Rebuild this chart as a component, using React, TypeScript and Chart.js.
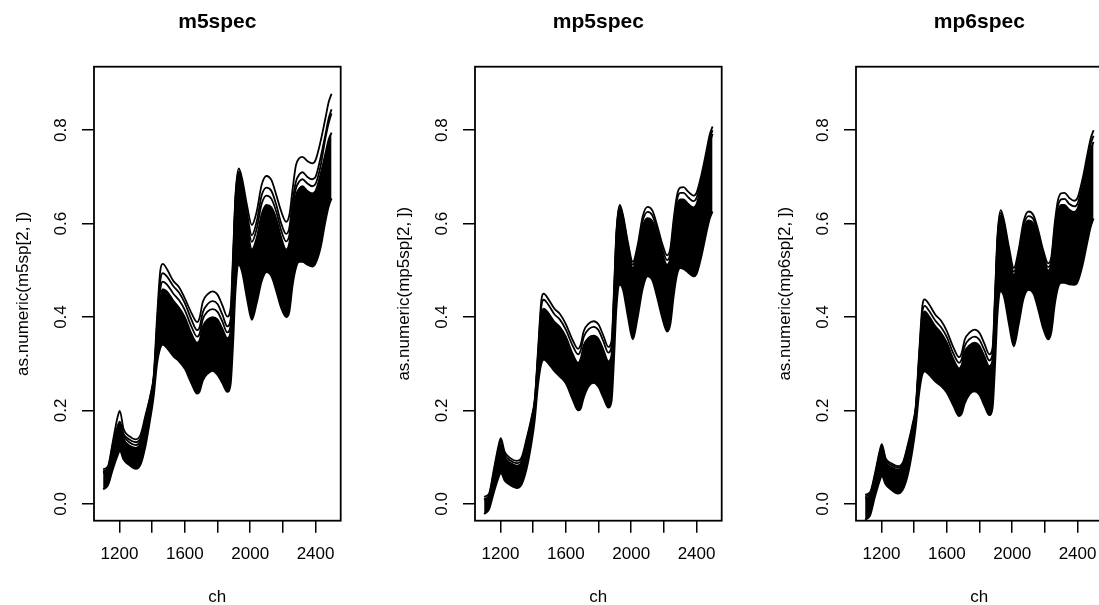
import React, { useEffect, useRef } from "react";
import { Chart, registerables } from "chart.js";

Chart.register(...registerables);

const FONT = "'Liberation Sans', Arial, Helvetica, sans-serif";

// wavelengths (channel) at which the curves were read
const WAVE = [
  1100, 1130, 1160, 1190, 1202, 1225, 1260,
  1300, 1330, 1360, 1390, 1410, 1430, 1450, 1465,
  1490, 1530, 1565, 1600, 1640, 1675, 1690,
  1710, 1740, 1770, 1800, 1830, 1860, 1880, 1895,
  1910, 1930, 1950, 1980, 2010, 2040, 2070,
  2100, 2130, 2160, 2190, 2220, 2240, 2260,
  2280, 2300, 2320, 2350, 2380, 2400, 2430, 2460, 2480, 2498,
];

// ---- m5spec ----
const M5_TOP = [
  0.074, 0.081, 0.135, 0.188, 0.199, 0.160, 0.145,
  0.138, 0.149, 0.191, 0.234, 0.277, 0.400, 0.500, 0.514,
  0.503, 0.477, 0.464, 0.440, 0.409, 0.389, 0.398,
  0.433, 0.449, 0.455, 0.448, 0.425, 0.401, 0.419, 0.533,
  0.661, 0.718, 0.697, 0.640, 0.597, 0.626, 0.683,
  0.702, 0.693, 0.661, 0.626, 0.604, 0.619, 0.675,
  0.725, 0.740, 0.743, 0.734, 0.729, 0.736, 0.775, 0.825, 0.860, 0.878,
];
const M5_SECOND = [
  0.070, 0.077, 0.128, 0.168, 0.176, 0.150, 0.138,
  0.132, 0.142, 0.185, 0.232, 0.272, 0.385, 0.478, 0.494,
  0.487, 0.466, 0.452, 0.430, 0.395, 0.372, 0.378,
  0.410, 0.428, 0.434, 0.428, 0.405, 0.380, 0.395, 0.520,
  0.655, 0.712, 0.690, 0.625, 0.575, 0.605, 0.660,
  0.677, 0.670, 0.640, 0.600, 0.578, 0.592, 0.650,
  0.690, 0.705, 0.710, 0.700, 0.695, 0.700, 0.740, 0.790, 0.825, 0.845,
];
const M5_THIRD = [
  0.068, 0.075, 0.122, 0.164, 0.172, 0.146, 0.132,
  0.126, 0.136, 0.180, 0.228, 0.268, 0.372, 0.460, 0.476,
  0.470, 0.450, 0.436, 0.415, 0.380, 0.358, 0.364,
  0.395, 0.412, 0.417, 0.411, 0.390, 0.367, 0.382, 0.510,
  0.648, 0.709, 0.684, 0.613, 0.561, 0.589, 0.642,
  0.660, 0.653, 0.625, 0.585, 0.562, 0.576, 0.635,
  0.675, 0.690, 0.695, 0.686, 0.680, 0.685, 0.722, 0.782, 0.815, 0.836,
];
const M5_BAND_HI = [
  0.066, 0.072, 0.115, 0.160, 0.170, 0.140, 0.125,
  0.120, 0.130, 0.175, 0.225, 0.265, 0.360, 0.440, 0.460,
  0.455, 0.435, 0.420, 0.400, 0.365, 0.345, 0.350,
  0.380, 0.395, 0.400, 0.395, 0.375, 0.355, 0.370, 0.500,
  0.640, 0.705, 0.675, 0.600, 0.545, 0.570, 0.620,
  0.640, 0.635, 0.610, 0.570, 0.545, 0.560, 0.620,
  0.660, 0.675, 0.680, 0.670, 0.665, 0.670, 0.705, 0.750, 0.780, 0.795,
];
const M5_BAND_LO = [
  0.031, 0.040, 0.075, 0.105, 0.114, 0.095, 0.083,
  0.075, 0.085, 0.125, 0.185, 0.232, 0.300, 0.334, 0.341,
  0.334, 0.316, 0.305, 0.289, 0.258, 0.236, 0.240,
  0.264, 0.279, 0.285, 0.276, 0.258, 0.240, 0.255, 0.340,
  0.455, 0.512, 0.497, 0.440, 0.394, 0.430, 0.476,
  0.496, 0.487, 0.455, 0.419, 0.400, 0.412, 0.469,
  0.505, 0.518, 0.518, 0.512, 0.508, 0.515, 0.547, 0.604, 0.636, 0.654,
];

// ---- mp5spec ----
const MP5_TOP = [
  0.015, 0.022, 0.075, 0.128, 0.141, 0.112, 0.098,
  0.092, 0.100, 0.140, 0.185, 0.225, 0.330, 0.435, 0.450,
  0.440, 0.418, 0.406, 0.385, 0.352, 0.332, 0.340,
  0.370, 0.386, 0.391, 0.384, 0.360, 0.336, 0.350, 0.460,
  0.585, 0.640, 0.618, 0.560, 0.518, 0.555, 0.615,
  0.636, 0.628, 0.595, 0.557, 0.532, 0.548, 0.610,
  0.660, 0.677, 0.678, 0.668, 0.660, 0.666, 0.705, 0.755, 0.790, 0.808,
];
const MP5_SECOND = [
  0.010, 0.018, 0.070, 0.122, 0.135, 0.106, 0.093,
  0.087, 0.095, 0.135, 0.181, 0.221, 0.322, 0.422, 0.437,
  0.428, 0.406, 0.394, 0.373, 0.340, 0.320, 0.328,
  0.358, 0.374, 0.379, 0.372, 0.348, 0.324, 0.338, 0.452,
  0.580, 0.637, 0.614, 0.555, 0.512, 0.548, 0.605,
  0.625, 0.617, 0.585, 0.547, 0.522, 0.538, 0.600,
  0.650, 0.666, 0.666, 0.656, 0.648, 0.655, 0.696, 0.747, 0.782, 0.800,
];
const MP5_BAND_HI = [
  0.008, 0.015, 0.065, 0.115, 0.128, 0.100, 0.088,
  0.082, 0.090, 0.130, 0.178, 0.218, 0.315, 0.405, 0.418,
  0.410, 0.390, 0.378, 0.358, 0.323, 0.302, 0.310,
  0.340, 0.356, 0.360, 0.353, 0.330, 0.305, 0.320, 0.440,
  0.575, 0.632, 0.608, 0.548, 0.505, 0.540, 0.595,
  0.612, 0.605, 0.575, 0.537, 0.512, 0.528, 0.590,
  0.638, 0.652, 0.652, 0.642, 0.635, 0.642, 0.685, 0.738, 0.772, 0.792,
];
const MP5_BAND_LO = [
  -0.022, -0.012, 0.025, 0.058, 0.067, 0.050, 0.040,
  0.034, 0.042, 0.075, 0.130, 0.180, 0.255, 0.300, 0.309,
  0.302, 0.284, 0.272, 0.258, 0.225, 0.200, 0.203,
  0.228, 0.252, 0.259, 0.250, 0.227, 0.206, 0.220, 0.310,
  0.420, 0.469, 0.458, 0.400, 0.352, 0.400, 0.460,
  0.487, 0.478, 0.440, 0.398, 0.369, 0.385, 0.445,
  0.490, 0.505, 0.503, 0.495, 0.487, 0.492, 0.530, 0.580, 0.610, 0.626,
];

// ---- mp6spec ----
const MP6_TOP = [
  0.020, 0.025, 0.065, 0.115, 0.128, 0.098, 0.087,
  0.081, 0.088, 0.125, 0.170, 0.210, 0.320, 0.423, 0.438,
  0.428, 0.405, 0.392, 0.370, 0.335, 0.314, 0.322,
  0.352, 0.367, 0.373, 0.366, 0.343, 0.320, 0.335, 0.450,
  0.575, 0.629, 0.607, 0.550, 0.505, 0.545, 0.605,
  0.626, 0.618, 0.585, 0.543, 0.515, 0.530, 0.600,
  0.650, 0.665, 0.666, 0.655, 0.649, 0.655, 0.695, 0.748, 0.782, 0.800,
];
const MP6_SECOND = [
  0.016, 0.021, 0.061, 0.110, 0.123, 0.094, 0.083,
  0.077, 0.084, 0.121, 0.166, 0.206, 0.312, 0.410, 0.424,
  0.414, 0.392, 0.378, 0.357, 0.322, 0.302, 0.309,
  0.338, 0.353, 0.358, 0.351, 0.329, 0.307, 0.322, 0.440,
  0.567, 0.623, 0.601, 0.542, 0.497, 0.536, 0.596,
  0.616, 0.609, 0.576, 0.535, 0.507, 0.522, 0.590,
  0.637, 0.652, 0.653, 0.642, 0.637, 0.643, 0.683, 0.737, 0.770, 0.788,
];
const MP6_BAND_HI = [
  0.012, 0.018, 0.058, 0.105, 0.118, 0.090, 0.079,
  0.073, 0.080, 0.117, 0.163, 0.203, 0.305, 0.400, 0.412,
  0.402, 0.380, 0.366, 0.345, 0.310, 0.290, 0.297,
  0.326, 0.340, 0.345, 0.338, 0.316, 0.295, 0.310, 0.430,
  0.560, 0.618, 0.595, 0.535, 0.490, 0.528, 0.588,
  0.607, 0.600, 0.568, 0.527, 0.500, 0.515, 0.580,
  0.625, 0.640, 0.640, 0.630, 0.625, 0.632, 0.672, 0.725, 0.758, 0.775,
];
const MP6_BAND_LO = [
  -0.034, -0.025, 0.015, 0.050, 0.060, 0.042, 0.030,
  0.022, 0.030, 0.060, 0.115, 0.165, 0.235, 0.277, 0.284,
  0.277, 0.262, 0.252, 0.238, 0.210, 0.188, 0.192,
  0.215, 0.235, 0.241, 0.233, 0.210, 0.190, 0.205, 0.295,
  0.405, 0.455, 0.443, 0.385, 0.337, 0.385, 0.440,
  0.458, 0.450, 0.415, 0.375, 0.352, 0.368, 0.425,
  0.462, 0.473, 0.473, 0.470, 0.469, 0.475, 0.510, 0.560, 0.592, 0.611,
];

// ---- axes ----
const X_TICKS = [1200, 1400, 1600, 1800, 2000, 2200, 2400];
const X_TICK_LABELS = ["1200", "", "1600", "", "2000", "", "2400"];
const Y_TICKS = [0, 0.2, 0.4, 0.6, 0.8];
const Y_TICK_LABELS = ["0.0", "0.2", "0.4", "0.6", "0.8"];
const X_MIN = 1044.08;
const X_MAX = 2553.92;
const Y_MIN = -0.036;
const Y_MAX = 0.936;

const TITLES = ["m5spec", "mp5spec", "mp6spec"];
const Y_LABELS = ["as.numeric(m5sp[2, ])", "as.numeric(mp5sp[2, ])", "as.numeric(mp6sp[2, ])"];
const X_LABEL = "ch";

const PANEL_BANDS = [
  [M5_BAND_LO, M5_BAND_HI],
  [MP5_BAND_LO, MP5_BAND_HI],
  [MP6_BAND_LO, MP6_BAND_HI],
];
const PANEL_LINES = [
  [M5_THIRD, M5_SECOND, M5_TOP],
  [MP5_SECOND, MP5_TOP],
  [MP6_SECOND, MP6_TOP],
];

const CW = 381;
const CH = 620;
const LW = 1.8;

const boxPlugin = {
  id: "rbox",
  afterDatasetsDraw(chart: any) {
    const { ctx, chartArea } = chart;
    ctx.save();
    ctx.strokeStyle = "#000";
    ctx.lineWidth = 1.8;
    ctx.strokeRect(chartArea.left, chartArea.top, chartArea.right - chartArea.left, chartArea.bottom - chartArea.top);
    ctx.restore();
  },
};

const pts = (vals: number[]) => WAVE.map((w, i) => ({ x: w, y: vals[i] }));

function lineDs(vals: number[], extra: any = {}) {
  return {
    data: pts(vals),
    borderColor: "#000",
    backgroundColor: "#000",
    borderWidth: LW,
    borderJoinStyle: "round",
    pointRadius: 0,
    fill: false,
    cubicInterpolationMode: "monotone",
    ...extra,
  };
}

function Panel({ idx }: { idx: number }) {
  const ref = useRef<HTMLCanvasElement>(null);
  useEffect(() => {
    const [lo, hi] = PANEL_BANDS[idx];
    const datasets: any[] = [
      lineDs(lo),
      lineDs(hi, { fill: "-1" }),
      ...PANEL_LINES[idx].map((v) => lineDs(v)),
    ];
    const chart = new Chart(ref.current as HTMLCanvasElement, {
      type: "line",
      data: { datasets },
      plugins: [boxPlugin],
      options: {
        animation: false,
        responsive: false,
        devicePixelRatio: 1,
        events: [],
        layout: { padding: { left: 0, right: CW - 340.7, top: 0, bottom: 0 } },
        plugins: {
          legend: { display: false },
          tooltip: { enabled: false },
          title: {
            display: true,
            text: TITLES[idx],
            fullSize: false,
            color: "#000",
            font: { family: FONT, size: 21, weight: "bold" },
            padding: { top: 9.4, bottom: 32.1 },
          },
        },
        scales: {
          x: {
            type: "linear",
            min: X_MIN,
            max: X_MAX,
            afterBuildTicks: (s: any) => {
              s.ticks = X_TICKS.map((v) => ({ value: v }));
            },
            afterFit: (s: any) => {
              s.height = CH - 520.7;
            },
            grid: { display: true, drawOnChartArea: false, drawTicks: true, tickLength: 12, color: "#000", lineWidth: 1.5 },
            border: { display: false },
            ticks: {
              autoSkip: false,
              maxRotation: 0,
              minRotation: 0,
              padding: 11.5,
              color: "#000",
              font: { family: FONT, size: 17 },
              callback: (v: any) => X_TICK_LABELS[X_TICKS.indexOf(Number(v))] ?? "",
            },
            title: {
              display: true,
              text: X_LABEL,
              color: "#000",
              font: { family: FONT, size: 17 },
              padding: { top: 0, bottom: 12.3 },
            },
          },
          y: {
            type: "linear",
            min: Y_MIN,
            max: Y_MAX,
            afterBuildTicks: (s: any) => {
              s.ticks = Y_TICKS.map((v) => ({ value: v }));
            },
            afterFit: (s: any) => {
              s.width = 94;
            },
            grid: { display: true, drawOnChartArea: false, drawTicks: true, tickLength: 12, color: "#000", lineWidth: 1.5 },
            border: { display: false },
            ticks: {
              autoSkip: false,
              minRotation: 90,
              maxRotation: 90,
              crossAlign: "center",
              padding: 8.5,
              color: "#000",
              font: { family: FONT, size: 17 },
              callback: (v: any) => Y_TICK_LABELS[Y_TICKS.indexOf(Number(v))] ?? "",
            },
            title: {
              display: true,
              text: Y_LABELS[idx],
              color: "#000",
              font: { family: FONT, size: 17 },
              padding: { top: 13.4, bottom: 0 },
            },
          },
        },
      } as any,
    });
    return () => chart.destroy();
  }, [idx]);
  return (
    <canvas
      ref={ref}
      width={CW}
      height={CH}
      style={{ position: "absolute", left: idx * CW, top: 0, width: CW, height: CH }}
    />
  );
}

export default function App() {
  return (
    <div
      style={{
        position: "fixed",
        left: 0,
        top: 0,
        width: 1099,
        height: 605,
        overflow: "hidden",
        background: "#fff",
      }}
    >
      {[0, 1, 2].map((i) => (
        <Panel key={i} idx={i} />
      ))}
    </div>
  );
}
